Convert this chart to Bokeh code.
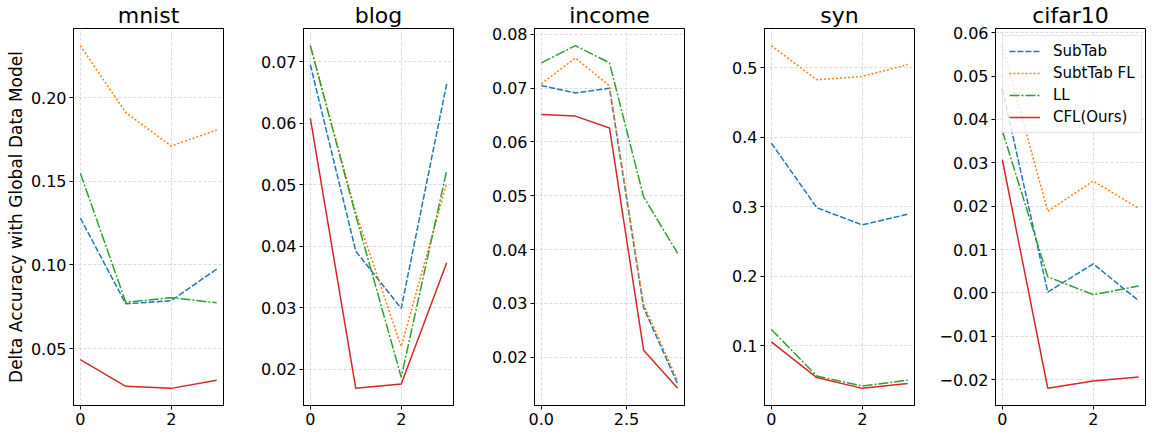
from bokeh.plotting import figure
from bokeh.layouts import row
from bokeh.models import Range1d, FixedTicker, Legend, LegendItem
from bokeh.embed import file_html
from bokeh.resources import INLINE

# ---------------- data ----------------
series_names = ["SubTab", "SubtTab FL", "LL", "CFL(Ours)"]
datasets = ["mnist", "blog", "income", "syn", "cifar10"]

x4 = [0, 1, 2, 3]
x5 = [0, 1, 2, 3, 4]

mnist_subtab = [0.128, 0.0767, 0.0786, 0.0975]
mnist_subtab_fl = [0.231, 0.191, 0.171, 0.1806]
mnist_ll = [0.1548, 0.0776, 0.0804, 0.0773]
mnist_cfl = [0.0434, 0.0274, 0.0262, 0.0311]

blog_subtab = [0.0695, 0.0392, 0.0299, 0.0664]
blog_subtab_fl = [0.0726, 0.0455, 0.0237, 0.0502]
blog_ll = [0.0726, 0.0450, 0.0187, 0.0523]
blog_cfl = [0.0608, 0.0169, 0.0176, 0.0373]

income_subtab = [0.0705, 0.0691, 0.0700, 0.0292, 0.0150]
income_subtab_fl = [0.0708, 0.0756, 0.0704, 0.0298, 0.0156]
income_ll = [0.0747, 0.0779, 0.0747, 0.0498, 0.0393]
income_cfl = [0.0651, 0.0648, 0.0626, 0.0213, 0.0142]

syn_subtab = [0.3916, 0.2986, 0.2738, 0.2892]
syn_subtab_fl = [0.5318, 0.4827, 0.4874, 0.5047]
syn_ll = [0.1234, 0.0564, 0.0419, 0.0504]
syn_cfl = [0.1056, 0.0541, 0.0386, 0.0457]

cifar_subtab = [0.047, 0.0002, 0.0067, -0.0018]
cifar_subtab_fl = [0.057, 0.0188, 0.0258, 0.0195]
cifar_ll = [0.0374, 0.0037, -0.0004, 0.0016]
cifar_cfl = [0.0307, -0.0220, -0.0203, -0.0194]

# tick values and labels
mnist_xticks = [0, 2]
mnist_xlabels = ["0", "2"]
mnist_yticks = [0.05, 0.10, 0.15, 0.20]
mnist_ylabels = ["0.05", "0.10", "0.15", "0.20"]

blog_xticks = [0, 2]
blog_xlabels = ["0", "2"]
blog_yticks = [0.02, 0.03, 0.04, 0.05, 0.06, 0.07]
blog_ylabels = ["0.02", "0.03", "0.04", "0.05", "0.06", "0.07"]

income_xticks = [0.0, 2.5]
income_xlabels = ["0.0", "2.5"]
income_yticks = [0.02, 0.03, 0.04, 0.05, 0.06, 0.07, 0.08]
income_ylabels = ["0.02", "0.03", "0.04", "0.05", "0.06", "0.07", "0.08"]

syn_xticks = [0, 2]
syn_xlabels = ["0", "2"]
syn_yticks = [0.1, 0.2, 0.3, 0.4, 0.5]
syn_ylabels = ["0.1", "0.2", "0.3", "0.4", "0.5"]

cifar_xticks = [0, 2]
cifar_xlabels = ["0", "2"]
cifar_yticks = [-0.02, -0.01, 0.0, 0.01, 0.02, 0.03, 0.04, 0.05, 0.06]
cifar_ylabels = ["\u22120.02", "\u22120.01", "0.00", "0.01", "0.02", "0.03", "0.04", "0.05", "0.06"]

y_label = "Delta Accuracy with Global Data Model"

# ---------------- styles ----------------
colors = ["#1f77b4", "#ff7f0e", "#2ca02c", "#d62728"]
dashes = ["6 2", "2 2", "10 2 2 2", "solid"]
FONT = "DejaVu Sans"

panels = [
    ("mnist", x4, [mnist_subtab, mnist_subtab_fl, mnist_ll, mnist_cfl],
     mnist_xticks, mnist_xlabels, mnist_yticks, mnist_ylabels),
    ("blog", x4, [blog_subtab, blog_subtab_fl, blog_ll, blog_cfl],
     blog_xticks, blog_xlabels, blog_yticks, blog_ylabels),
    ("income", x5, [income_subtab, income_subtab_fl, income_ll, income_cfl],
     income_xticks, income_xlabels, income_yticks, income_ylabels),
    ("syn", x4, [syn_subtab, syn_subtab_fl, syn_ll, syn_cfl],
     syn_xticks, syn_xlabels, syn_yticks, syn_ylabels),
    ("cifar10", x4, [cifar_subtab, cifar_subtab_fl, cifar_ll, cifar_cfl],
     cifar_xticks, cifar_xlabels, cifar_yticks, cifar_ylabels),
]

lefts = [73, 75, 76, 75, 76]
rights = [5, 5, 5, 5, 3]
FRAME_W = 150
H = 427

figs = []
for i, (name, xs, ys_list, xt, xl, yt, yl) in enumerate(panels):
    xmin, xmax = min(xs), max(xs)
    xpad = 0.05 * (xmax - xmin)
    allv = [v for s in ys_list for v in s]
    ymin, ymax = min(allv), max(allv)
    ypad = 0.05 * (ymax - ymin)
    p = figure(width=lefts[i] + FRAME_W + rights[i], height=H,
               x_range=Range1d(xmin - xpad, xmax + xpad),
               y_range=Range1d(ymin - ypad, ymax + ypad),
               output_backend="svg", toolbar_location=None,
               min_border_left=lefts[i], min_border_right=rights[i],
               min_border_top=21, min_border_bottom=0,
               title=name)
    p.title.align = "center"
    p.title.text_font = FONT
    p.title.text_font_size = "22px"
    p.title.text_font_style = "normal"
    p.title.text_color = "#000000"
    p.title.standoff = 1
    p.title.text_line_height = 1.0

    renderers = []
    for k, ys in enumerate(ys_list):
        r = p.line(xs, ys, line_color=colors[k], line_width=1.5,
                   line_dash=dashes[k])
        renderers.append(r)

    p.xaxis.ticker = FixedTicker(ticks=xt)
    p.xaxis.major_label_overrides = {t: l for t, l in zip(xt, xl)}
    p.yaxis.ticker = FixedTicker(ticks=yt)
    p.yaxis.major_label_overrides = {t: l for t, l in zip(yt, yl)}
    p.xaxis.axis_label = None

    for ax in (p.xaxis[0], p.yaxis[0]):
        ax.major_label_text_font = FONT
        ax.major_label_text_font_size = "16px"
        ax.major_label_text_color = "#000000"
        ax.axis_line_color = "#000000"
        ax.axis_line_width = 1
        ax.major_tick_line_color = "#000000"
        ax.major_tick_out = 4
        ax.major_tick_in = 0
        ax.minor_tick_line_color = None
    p.yaxis.major_label_standoff = 3
    p.xaxis.major_label_standoff = 3
    p.xaxis.major_label_text_baseline = "alphabetic"

    if i == 0:
        p.yaxis.axis_label = y_label
        p.yaxis.axis_label_text_font = FONT
        p.yaxis.axis_label_text_font_size = "17px"
        p.yaxis.axis_label_text_font_style = "normal"
        p.yaxis.axis_label_text_color = "#000000"
        p.yaxis.axis_label_standoff = 2
    else:
        p.yaxis.axis_label = None

    p.outline_line_color = "#000000"
    p.outline_line_width = 1
    p.xgrid.grid_line_color = "#d0d0d0"
    p.ygrid.grid_line_color = "#d0d0d0"
    p.xgrid.grid_line_dash = "3 2"
    p.ygrid.grid_line_dash = "3 2"
    p.xgrid.grid_line_width = 0.8
    p.ygrid.grid_line_width = 0.8
    p.background_fill_color = "white"
    p.border_fill_color = "white"

    if name == "cifar10":
        items = [LegendItem(label=series_names[k], renderers=[renderers[k]])
                 for k in range(4)]
        legend = Legend(items=items, location="top_left")
        legend.label_text_font = FONT
        legend.label_text_font_size = "15px"
        legend.label_text_color = "#000000"
        legend.glyph_width = 31
        legend.glyph_height = 18
        legend.label_height = 18
        legend.spacing = 4
        legend.padding = 6
        legend.margin = 7
        legend.label_standoff = 13
        legend.border_line_color = "#cccccc"
        legend.border_line_width = 1
        legend.background_fill_alpha = 0.8
        p.add_layout(legend)

    figs.append(p)

layout = row(*figs, spacing=0)
open("out.html", "w").write(file_html(layout, INLINE))
